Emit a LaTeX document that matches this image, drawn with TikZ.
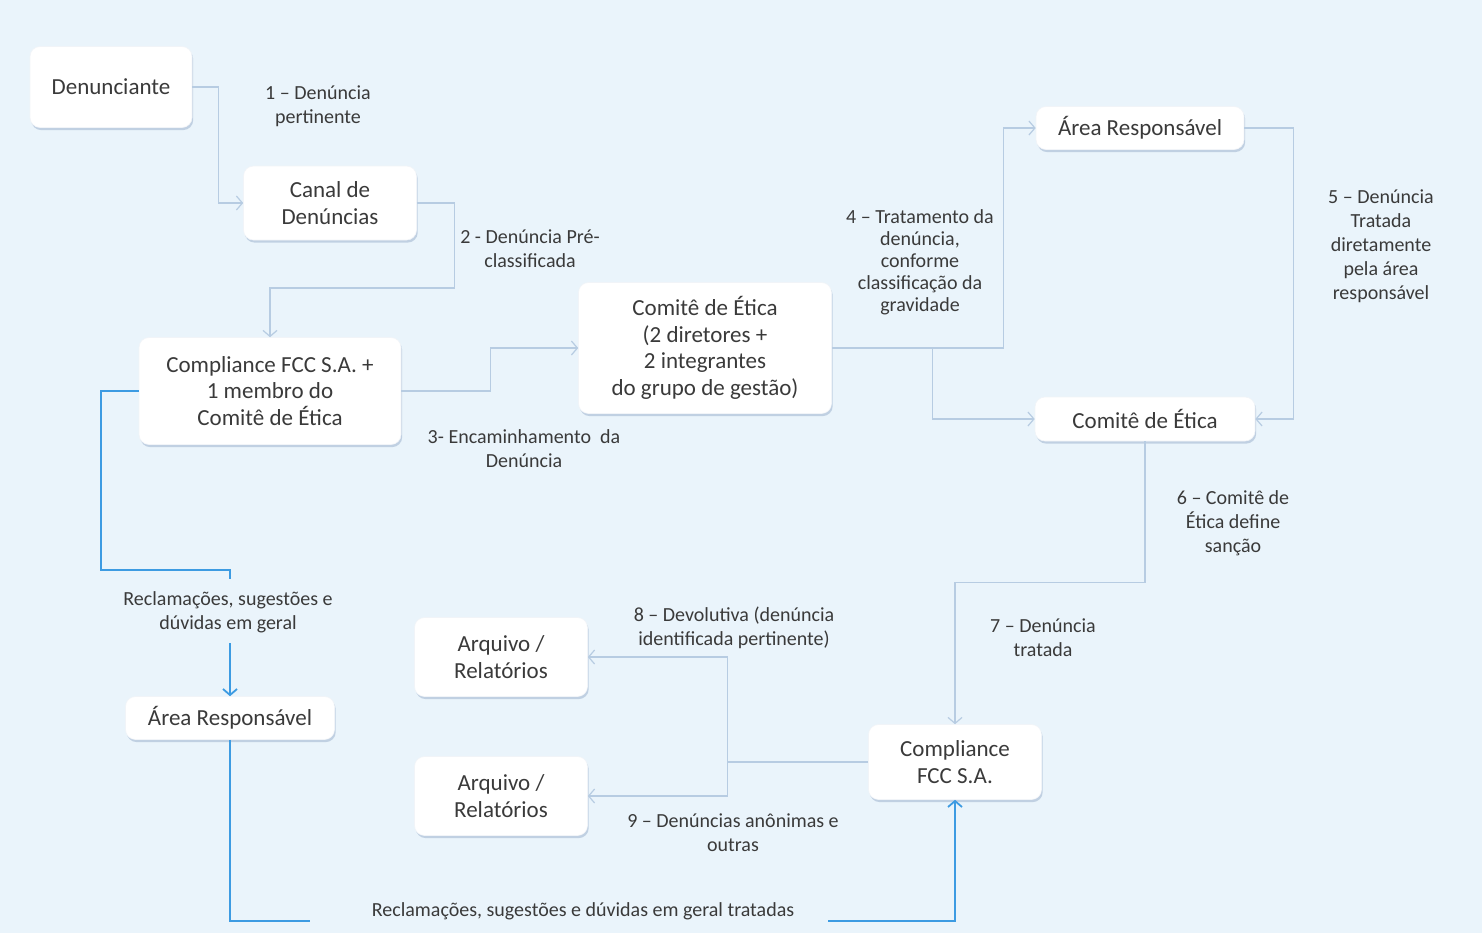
\documentclass[tikz,border=0pt]{standalone}
\usepackage{fontspec}
\setmainfont{Carlito}
\usetikzlibrary{arrows.meta,shadows}
\definecolor{bg}{HTML}{EAF4FB}
\definecolor{lightln}{HTML}{B7CCE2}
\definecolor{blueln}{HTML}{3D9BE2}
\definecolor{txt}{HTML}{3A3A3A}
\definecolor{shd}{HTML}{9FB4CF}
\tikzset{
  box/.style={draw=white!85!shd, line width=0.3pt, fill=white, rounded corners=5pt,
    align=center, inner sep=0pt, text=txt,
    font=\fontsize{11.5}{13.3}\selectfont,
    drop shadow={shadow xshift=0.6pt, shadow yshift=-1.3pt, fill=shd, opacity=0.55}},
  lbl/.style={align=center, inner sep=1pt, text=txt, font=\fontsize{10}{12}\selectfont},
  ln/.style={draw=lightln, line width=0.6pt, -{Straight Barb[length=3pt,width=7pt]}},
  lnn/.style={draw=lightln, line width=0.6pt},
  bln/.style={draw=blueln, line width=0.9pt, -{Straight Barb[length=3pt,width=7pt]}},
  blnn/.style={draw=blueln, line width=0.9pt},
}
\begin{document}
\begin{tikzpicture}[x=0.5pt,y=-0.5pt]
\fill[bg] (0,0) rectangle (1482,933);
\useasboundingbox (0,0) rectangle (1482,933);

% boxes
\node[box, minimum width=81pt, minimum height=40.5pt] (den) at (111,87) {Denunciante};
\node[box, minimum width=86.5pt, minimum height=37pt] (canal) at (330,203) {Canal de\\Denúncias};
\node[box, minimum width=131pt, minimum height=53.5pt] (comp1) at (270,391) {Compliance FCC S.A. +\\1 membro do\\Comitê de Ética};
\node[box, minimum width=126.5pt, minimum height=65.5pt] (comite1) at (705,348) {Comitê de Ética\\(2 diretores +\\2 integrantes\\do grupo de gestão)};
\node[box, minimum width=104pt, minimum height=21.5pt] (area1) at (1140,128) {Área Responsável};
\node[box, minimum width=110pt, minimum height=22pt] (comite2) at (1145,419) {Comitê de Ética};
\node[box, minimum width=86.5pt, minimum height=39.5pt] (arq1) at (501,657) {Arquivo /\\Relatórios};
\node[box, minimum width=86.5pt, minimum height=39.5pt] (arq2) at (501,796) {Arquivo /\\Relatórios};
\node[box, minimum width=104.5pt, minimum height=21.5pt] (area2) at (230,718) {Área Responsável};
\node[box, minimum width=86.5pt, minimum height=37.5pt] (comp2) at (955,762) {Compliance\\FCC S.A.};

% labels
\node[lbl] (l1) at (318,106) {1 – Denúncia\\pertinente};
\node[lbl] (l2) at (530,249) {2 - Denúncia Pré-\\classificada};
\node[lbl] (l3) at (524,449) {3- Encaminhamento\ \ da\\Denúncia};
\node[lbl, font=\fontsize{10}{11}\selectfont] (l4) at (920,262) {4 – Tratamento da\\denúncia,\\conforme\\classificação da\\gravidade};
\node[lbl] (l5) at (1381,246) {5 – Denúncia\\Tratada\\diretamente\\pela área\\responsável};
\node[lbl] (l6) at (1233,523) {6 – Comitê de\\Ética define\\sanção};
\node[lbl] (l7) at (1043,638) {7 – Denúncia\\tratada};
\node[lbl] (l8) at (734,628) {8 – Devolutiva (denúncia\\identificada pertinente)};
\node[lbl] (l9) at (733,833) {9 – Denúncias anônimas e\\outras};
\node[lbl] (lR) at (228,612) {Reclamações, sugestões e\\dúvidas em geral};
\node[lbl] (lB) at (583,911) {Reclamações, sugestões e dúvidas em geral tratadas};

% light connectors
\draw[ln] (den.east) -- ++(26,0) |- (canal.west);
\draw[ln] (canal.east) -- ++(38,0) -- ++(0,85) -| (comp1.north);
\draw[ln] (comp1.east) -- ++(89,0) |- (comite1.west);
\draw[ln] (comite1.east) -- ++(172,0) |- (area1.west);
\draw[ln] ([xshift=50.5pt]comite1.east) |- (comite2.west);
\draw[ln] (area1.east) -- ++(49,0) |- (comite2.east);
\draw[ln] (comite2.south) -- ++(0,141) -| (comp2.north);
\draw[lnn] (comp2.west) -- ++(-141,0) coordinate (j89);
\draw[ln] (j89) |- (arq1.east);
\draw[ln] (j89) |- (arq2.east);

% blue connectors
\coordinate (b1) at (310,921);
\coordinate (b2) at (828,921);
\draw[blnn] (comp1.west) -- ++(-38,0) -- ++(0,179) -| ([yshift=5pt]lR.north -| area2.north);
\draw[bln] ([yshift=-4pt]lR.south -| area2.north) -- (area2.north);
\draw[blnn] (area2.south) |- (b1);
\draw[bln] (b2) -| (comp2.south);
\end{tikzpicture}
\end{document}
